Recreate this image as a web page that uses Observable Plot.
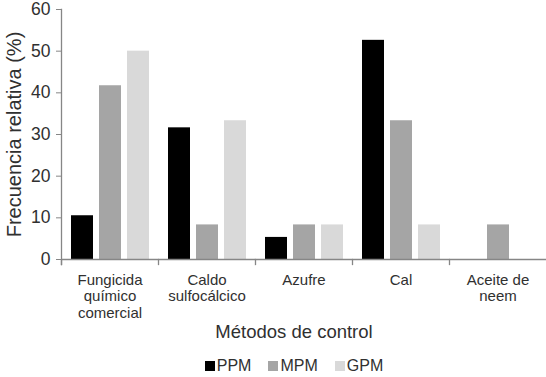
<!DOCTYPE html>
<html>
<head>
<meta charset="utf-8">
<script src="https://cdn.jsdelivr.net/npm/d3@7"></script>
<script src="https://cdn.jsdelivr.net/npm/@observablehq/plot@0.6"></script>
<style>
  html, body { margin: 0; padding: 0; background: #ffffff; }
  body { width: 546px; height: 377px; overflow: hidden; font-family: "Liberation Sans", Arial, sans-serif; color: #303030; }
  #xtitle { height: 22px; line-height: 22px; font-size: 18.5px; text-align: center; padding-left: 42px; }
  #legend { margin-top: 13px; height: 20px; line-height: 20px; font-size: 16px; display: flex; justify-content: center; padding-left: 42px; gap: 17px; }
  #legend .item { display: flex; align-items: center; }
  #legend .sw { width: 10px; height: 10px; margin-right: 2px; display: inline-block; }
</style>
</head>
<body>
<div id="chart"></div>
<div id="xtitle"></div>
<div id="legend"></div>
<script>
const categories = ["Fungicida químico comercial", "Caldo sulfocálcico", "Azufre", "Cal", "Aceite de neem"];
const categoryLabels = ["Fungicida\nquímico\ncomercial", "Caldo\nsulfocálcico", "Azufre", "Cal", "Aceite de\nneem"];
const series = ["PPM", "MPM", "GPM"];
const ppmValues = [10.5, 31.6, 5.3, 52.6, 0];
const mpmValues = [41.7, 8.3, 8.3, 33.3, 8.3];
const gpmValues = [50.0, 33.3, 8.3, 8.3, 0];
const yTicks = [0, 10, 20, 30, 40, 50, 60];
const seriesColors = ["#000000", "#a5a5a5", "#d9d9d9"];
const yTitle = "Frecuencia relativa (%)";
const xTitle = "Métodos de control";

const valuesBySeries = [ppmValues, mpmValues, gpmValues];
const data = [];
categories.forEach((c, i) => {
  series.forEach((s, j) => data.push({category: c, label: categoryLabels[i], series: s, value: valuesBySeries[j][i]}));
});

const textColor = "#303030";
const axisColor = "#868686";
const W = 546, H = 321, mTop = 9, mBottom = 62, mLeft = 61, mRight = 0;
const innerH = H - mTop - mBottom;

const chart = Plot.plot({
  width: W,
  height: H,
  marginTop: mTop,
  marginBottom: mBottom,
  marginLeft: mLeft,
  marginRight: mRight,
  style: {fontFamily: "'Liberation Sans', Arial, sans-serif", fontSize: "16px", color: textColor, background: "#ffffff"},
  fx: {domain: categories, padding: 0, axis: null, label: null},
  x: {domain: series, paddingInner: 0.228, paddingOuter: 0.316, axis: null},
  y: {domain: [0, 60], axis: null},
  color: {domain: series, range: seriesColors},
  marks: [
    Plot.barY(data, {fx: "category", x: "series", y: "value", fill: "series"}),
    Plot.ruleY([0], {stroke: axisColor, strokeWidth: 1.3}),
    Plot.frame({anchor: "left", stroke: axisColor, strokeWidth: 1.3, insetBottom: -5, facetAnchor: "left"}),
    Plot.frame({anchor: "left", stroke: axisColor, strokeWidth: 1.3, insetTop: innerH, insetBottom: -5}),
    Plot.axisY({ticks: yTicks, tickSize: 5, tickPadding: 6, stroke: axisColor, fill: textColor, fontSize: 17.5, label: null, facetAnchor: "left"}),
    Plot.text([yTitle], {frameAnchor: "left", textAnchor: "middle", rotate: -90, dx: -47, lineAnchor: "middle", fontSize: 20, fill: textColor, facetAnchor: "left"}),
    Plot.text(data.filter(d => d.series === series[0]), {fx: "category", text: "label", frameAnchor: "bottom", lineAnchor: "top", dy: 13, lineHeight: 1.13, fontSize: 15, fill: textColor})
  ]
});
document.getElementById("chart").appendChild(chart);

document.getElementById("xtitle").textContent = xTitle;
const legend = document.getElementById("legend");
series.forEach((s, i) => {
  const item = document.createElement("span");
  item.className = "item";
  const sw = document.createElement("span");
  sw.className = "sw";
  sw.style.background = seriesColors[i];
  item.appendChild(sw);
  item.appendChild(document.createTextNode(s));
  legend.appendChild(item);
});
</script>
</body>
</html>
